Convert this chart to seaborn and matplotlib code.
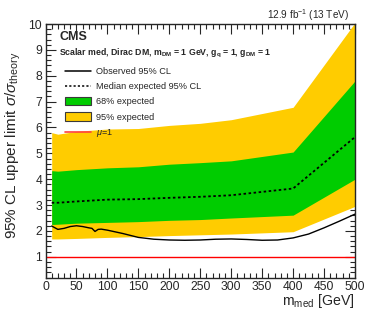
import numpy as np
import pandas as pd
import matplotlib
matplotlib.use("Agg")
import matplotlib.pyplot as plt
from matplotlib.lines import Line2D
from matplotlib.patches import Patch
from matplotlib.ticker import MultipleLocator
import seaborn as sns

# ---- data ----
exp_mass = [10, 20, 50, 100, 150, 200, 250, 300, 400, 500]
exp_95_up = [5.80, 5.74, 5.85, 5.94, 5.96, 6.08, 6.16, 6.30, 6.78, 10.05]
exp_68_up = [4.33, 4.31, 4.37, 4.44, 4.48, 4.58, 4.64, 4.71, 5.05, 7.80]
exp_median = [3.09, 3.09, 3.14, 3.21, 3.23, 3.28, 3.32, 3.38, 3.64, 5.63]
exp_68_dn = [2.25, 2.26, 2.30, 2.33, 2.36, 2.41, 2.44, 2.50, 2.61, 4.00]
exp_95_dn = [1.69, 1.69, 1.71, 1.75, 1.78, 1.82, 1.85, 1.88, 1.97, 2.95]

obs_mass = [10, 20, 30, 40, 50, 60, 70, 75, 80, 85, 90, 100, 125, 150, 175, 200,
            225, 250, 275, 300, 325, 350, 375, 400, 425, 450, 475, 500]
obs_limit = [2.19, 2.06, 2.10, 2.17, 2.20, 2.17, 2.12, 2.10, 1.98, 2.06, 2.07, 2.03,
             1.90, 1.75, 1.68, 1.65, 1.64, 1.65, 1.68, 1.69, 1.67, 1.64, 1.65, 1.73,
             1.88, 2.12, 2.38, 2.65]

legend_labels = ["Observed 95% CL", "Median expected 95% CL", "68% expected",
                 "95% expected", r"$\mu$=1"]

# ---- style ----
sns.set_style("ticks")
plt.rcParams["font.family"] = ["Liberation Sans", "DejaVu Sans"]
plt.rcParams["mathtext.fontset"] = "custom"
plt.rcParams["mathtext.rm"] = "Liberation Sans"
plt.rcParams["mathtext.it"] = "Liberation Sans:italic"
plt.rcParams["mathtext.bf"] = "Liberation Sans:bold"
plt.rcParams["mathtext.sf"] = "Liberation Sans"

W, H = 374, 322
fig = plt.figure(figsize=(W / 100, H / 100), dpi=100)
L, R, T, B = 45.5, 355, 24, 277.5
ax = fig.add_axes([L / W, 1 - B / H, (R - L) / W, (B - T) / H])

GREEN = "#00cc00"
YELLOW = "#ffcc00"
DOTS = (0, (1.4, 1.4))

ax.fill_between(exp_mass, exp_95_dn, exp_95_up, color=YELLOW, lw=0, zorder=1)
ax.fill_between(exp_mass, exp_68_dn, exp_68_up, color=GREEN, lw=0, zorder=1.1)

df_exp = pd.DataFrame({"m": exp_mass, "lim": exp_median})
df_obs = pd.DataFrame({"m": obs_mass, "lim": obs_limit})
sns.lineplot(data=df_exp, x="m", y="lim", ax=ax, color="k", lw=1.3,
             linestyle=DOTS, zorder=3)
sns.lineplot(data=df_obs, x="m", y="lim", ax=ax, color="k", lw=1.0, zorder=3)
ax.axhline(1, color="#ff0000", lw=1.0, zorder=2)

ax.set_xlim(0, 500)
ax.set_ylim(0.2, 10)
ax.xaxis.set_major_locator(MultipleLocator(50))
ax.xaxis.set_minor_locator(MultipleLocator(10))
ax.set_yticks(np.arange(1, 11))
ax.yaxis.set_minor_locator(MultipleLocator(0.2))
ax.tick_params(which="both", direction="in", top=True, right=True,
               labelsize=8.7, width=0.8, pad=2.5)
ax.tick_params(which="major", length=7)
ax.tick_params(which="minor", length=3.5)
for s in ax.spines.values():
    s.set_linewidth(1.0)
ax.set_xlabel("")
ax.set_ylabel("")

# axis titles
fig.text(R / W, 1 - 301 / H, r"m$_{\mathrm{med}}$ [GeV]", ha="right", va="center",
         fontsize=10.2)
fig.text(13 / W, 1 - 52 / H, r"95% CL upper limit $\sigma/\sigma_{\mathrm{theory}}$",
         rotation=90, ha="center", va="top", fontsize=11)

# header texts
fig.text(349 / W, 1 - 15.5 / H, r"12.9 fb$^{-1}$ (13 TeV)", ha="right", va="center",
         fontsize=7.2)
fig.text(60 / W, 1 - 37 / H, "CMS", ha="left", va="center", fontsize=9,
         fontweight="bold")
fig.text(59 / W, 1 - 53 / H,
         r"Scalar med, Dirac DM, m$_{\mathbf{DM}}$ = 1 GeV, g$_{\mathbf{q}}$ = 1, g$_{\mathbf{DM}}$ = 1",
         ha="left", va="center", fontsize=6.35, fontweight="bold")

handles = [
    Line2D([], [], color="k", lw=1.1),
    Line2D([], [], color="k", lw=1.1, linestyle=DOTS),
    Patch(facecolor=GREEN, edgecolor="#3a3a3a", lw=0.8),
    Patch(facecolor=YELLOW, edgecolor="#3a3a3a", lw=0.8),
    Line2D([], [], color="#ff4040", lw=1.2),
]
leg = ax.legend(handles, legend_labels, loc="upper left",
                bbox_to_anchor=(65 / W, 1 - 67 / H), bbox_transform=fig.transFigure,
                frameon=False, fontsize=6.6, handlelength=2.8, handleheight=1.02,
                handletextpad=0.6, labelspacing=0.63, borderpad=0, borderaxespad=0)

fig.savefig("out.png", dpi=100)
